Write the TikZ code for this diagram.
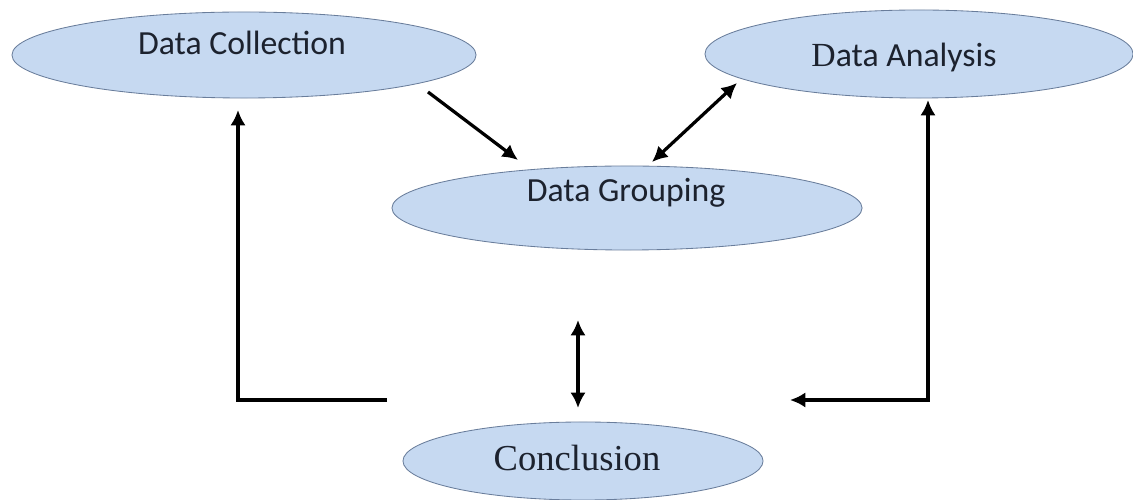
\documentclass[tikz,border=0pt]{standalone}
\usepackage{fontspec}
\setmainfont{Liberation Serif}
\newfontfamily\calib{Carlito}
\usetikzlibrary{shapes.geometric,arrows.meta}
\definecolor{blobfill}{RGB}{198,217,241}
\definecolor{blobline}{RGB}{105,125,155}
\definecolor{inktext}{RGB}{28,34,46}
\tikzset{
  blob/.style={ellipse, draw=blobline, line width=0.6pt, fill=blobfill, inner sep=0pt},
  arr/.style={line width=2.3pt, -{Latex[length=11pt,width=11pt]}},
  darr/.style={line width=2.3pt, {Latex[length=11pt,width=11pt]}-{Latex[length=11pt,width=11pt]}}
}

\begin{document}
\begin{tikzpicture}[x=0.025cm, y=0.025cm, text=inktext]
    \useasboundingbox (0,0) rectangle (1133,500);

    % the four stages
    \node [blob, minimum width=11.6cm, minimum height=2.15cm,
      label={[xshift=-0.05cm, yshift=0.3cm, text=inktext]center:\calib\fontsize{24}{28}\selectfont Data Collection}] (coll) at (244,445) {};
    \node [blob, minimum width=10.7cm, minimum height=2.2cm,
      label={[xshift=-0.375cm, yshift=-0.1cm, text=inktext]center:\calib\fontsize{24}{28}\selectfont{\rmfamily D}ata Analysis}] (ana) at (919,446) {};
    \node [blob, minimum width=11.75cm, minimum height=2.1cm,
      label={[xshift=-0.025cm, yshift=0.375cm, text=inktext]center:\calib\fontsize{24}{28}\selectfont Data Grouping}] (grp) at (627,292) {};
    \node [blob, minimum width=9cm, minimum height=1.95cm,
      label={[xshift=-0.15cm, yshift=0.075cm, text=inktext]center:\fontsize{26}{30}\selectfont Conclusion}] (conc) at (583,39) {};

    % free ends of the connectors
    \coordinate (collout) at (428,408);
    \coordinate (grpin) at (518,340);
    \coordinate (grpup) at (652,338);
    \coordinate (anadown) at (737,417);
    \coordinate (midtop) at (578,180);
    \coordinate (midbot) at (578,92);
    \coordinate (leftend) at (387,100);
    \coordinate (leftcorner) at (238,100);
    \coordinate (collin) at (238,390);
    \coordinate (rightend) at (790,100);
    \coordinate (rightcorner) at (928,100);
    \coordinate (anain) at (928,400);

    \draw [arr] (collout) -- (grpin);
    \draw [darr] (grpup) -- (anadown);
    \draw [darr] (midtop) -- (midbot);
    \draw [arr] (leftend) -- (leftcorner) -- (collin);
    \draw [darr] (rightend) -- (rightcorner) -- (anain);
\end{tikzpicture}
\end{document}
